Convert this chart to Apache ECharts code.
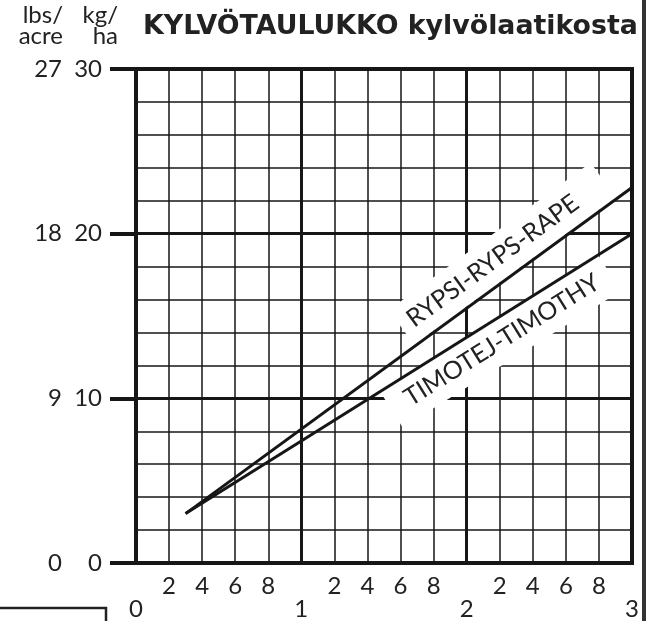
<!DOCTYPE html>
<html>
<head>
<meta charset="utf-8">
<script src="https://cdn.jsdelivr.net/npm/echarts@6/dist/echarts.min.js"></script>
<style>
  html, body { margin: 0; padding: 0; background: #fff; }
  #chart { width: 657px; height: 621px; }
</style>
</head>
<body>
<div id="chart"></div>
<script>
// data
var minorXLabels = ['2', '4', '6', '8'];
var majorXLabels = ['0', '1', '2', '3'];
var kgLabels = ['0', '10', '20', '30'];
var lbsLabels = ['0', '9', '18', '27'];
var rypsLine = [[0.3, 3.0], [3.0, 22.8]];
var timotejLine = [[0.3, 3.0], [3.0, 20.0]];
var lineNames = ['RYPSI-RYPS-RAPE', 'TIMOTEJ-TIMOTHY'];

var ink = '#161616';
var numFont = 'Lato';

var chart = echarts.init(document.getElementById('chart'));

var option = {
  animation: false,
  grid: {
    left: 136, right: 25, top: 69, bottom: 58,
    show: true, borderColor: ink, borderWidth: 4, backgroundColor: 'transparent'
  },
  xAxis: [
    { // minor grid + 2 4 6 8
      type: 'value', min: 0, max: 3, interval: 0.2,
      axisLine: { show: true, lineStyle: { color: ink, width: 4 } },
      axisTick: { show: false },
      splitLine: { show: true, lineStyle: { color: ink, width: 1.5 } },
      axisLabel: {
        margin: 11, fontSize: 24, color: '#222', fontFamily: numFont,
        formatter: function (v) {
          var t = Math.round(v * 10) % 10;
          if (t === 0) return '';
          return minorXLabels[t / 2 - 1];
        }
      }
    },
    { // major grid + 0 1 2 3
      type: 'value', min: 0, max: 3, interval: 1, position: 'bottom',
      axisLine: { show: false },
      axisTick: { show: false },
      splitLine: { show: true, lineStyle: { color: ink, width: 3 } },
      axisLabel: {
        margin: 34, fontSize: 24, color: '#222', fontFamily: numFont,
        showMaxLabel: true, showMinLabel: true,
        formatter: function (v) { return majorXLabels[Math.round(v)]; }
      }
    }
  ],
  yAxis: [
    { // minor grid
      type: 'value', min: 0, max: 30, interval: 2,
      axisLine: { show: true, lineStyle: { color: ink, width: 4 } },
      axisTick: { show: false },
      axisLabel: { show: false },
      splitLine: { show: true, lineStyle: { color: ink, width: 1.5 } }
    },
    { // kg/ha
      type: 'value', min: 0, max: 30, interval: 10, position: 'left',
      axisLine: { show: false },
      axisTick: { show: true, length: 26, lineStyle: { color: ink, width: 4 } },
      splitLine: { show: true, lineStyle: { color: ink, width: 3 } },
      axisLabel: {
        margin: 34, fontSize: 24, color: '#222', fontFamily: numFont,
        formatter: function (v) { return kgLabels[Math.round(v / 10)]; }
      }
    },
    { // lbs/acre
      type: 'value', min: 0, max: 30, interval: 10, position: 'left',
      axisLine: { show: false },
      axisTick: { show: false },
      splitLine: { show: false },
      axisLabel: {
        margin: 74, fontSize: 24, color: '#222', fontFamily: numFont,
        formatter: function (v) { return lbsLabels[Math.round(v / 10)]; }
      }
    }
  ],
  series: [
    {
      name: lineNames[0], type: 'line', data: rypsLine, symbol: 'none', z: 5,
      lineStyle: { color: ink, width: 3 }
    },
    {
      name: lineNames[1], type: 'line', data: timotejLine, symbol: 'none', z: 5,
      lineStyle: { color: ink, width: 3 }
    }
  ]
};

chart.setOption(option);

// labels along the lines, white band behind them
function lineLabel(pts, text, t, dist, pad) {
  var p0 = chart.convertToPixel({ xAxisIndex: 0, yAxisIndex: 0 }, pts[0]);
  var p1 = chart.convertToPixel({ xAxisIndex: 0, yAxisIndex: 0 }, pts[1]);
  var a = Math.atan2(p0[1] - p1[1], p1[0] - p0[0]);
  var cx = p0[0] + (p1[0] - p0[0]) * t;
  var cy = p0[1] + (p1[1] - p0[1]) * t;
  return {
    type: 'text', z: 3,
    x: cx - dist * Math.sin(a),
    y: cy - dist * Math.cos(a),
    rotation: a,
    style: {
      text: text, fontSize: 25, fontFamily: numFont, fill: '#222',
      align: 'center', verticalAlign: 'middle',
      backgroundColor: '#fff', padding: pad
    }
  };
}

var txt = { fill: '#222', fontFamily: numFont, fontSize: 24, lineHeight: 21, align: 'right', verticalAlign: 'top' };

chart.setOption({
  graphic: [
    lineLabel(rypsLine, lineNames[0], 0.74, 23, [9, 34, 9, 10]),
    lineLabel(timotejLine, lineNames[1], 0.68, -21, [9, 14, 9, 18]),
    {
      type: 'text', x: 143, y: 27,
      style: { text: 'KYLVÖTAULUKKO kylvölaatikosta', fontFamily: 'DejaVu Sans', fontWeight: 'bold', fontSize: 26.8, fill: '#222', verticalAlign: 'middle' }
    },
    { type: 'text', x: 63, y: 5, style: Object.assign({}, txt, { text: 'lbs/\nacre' }) },
    { type: 'text', x: 118, y: 5, style: Object.assign({}, txt, { text: 'kg/\nha' }) },
    { type: 'line', shape: { x1: 644, y1: 0, x2: 644, y2: 621 }, style: { stroke: '#333', lineWidth: 4 } },
    { type: 'polyline', shape: { points: [[0, 608], [106, 608], [106, 621]] }, style: { stroke: '#222', lineWidth: 2.5, fill: null } }
  ]
});
</script>
</body>
</html>
